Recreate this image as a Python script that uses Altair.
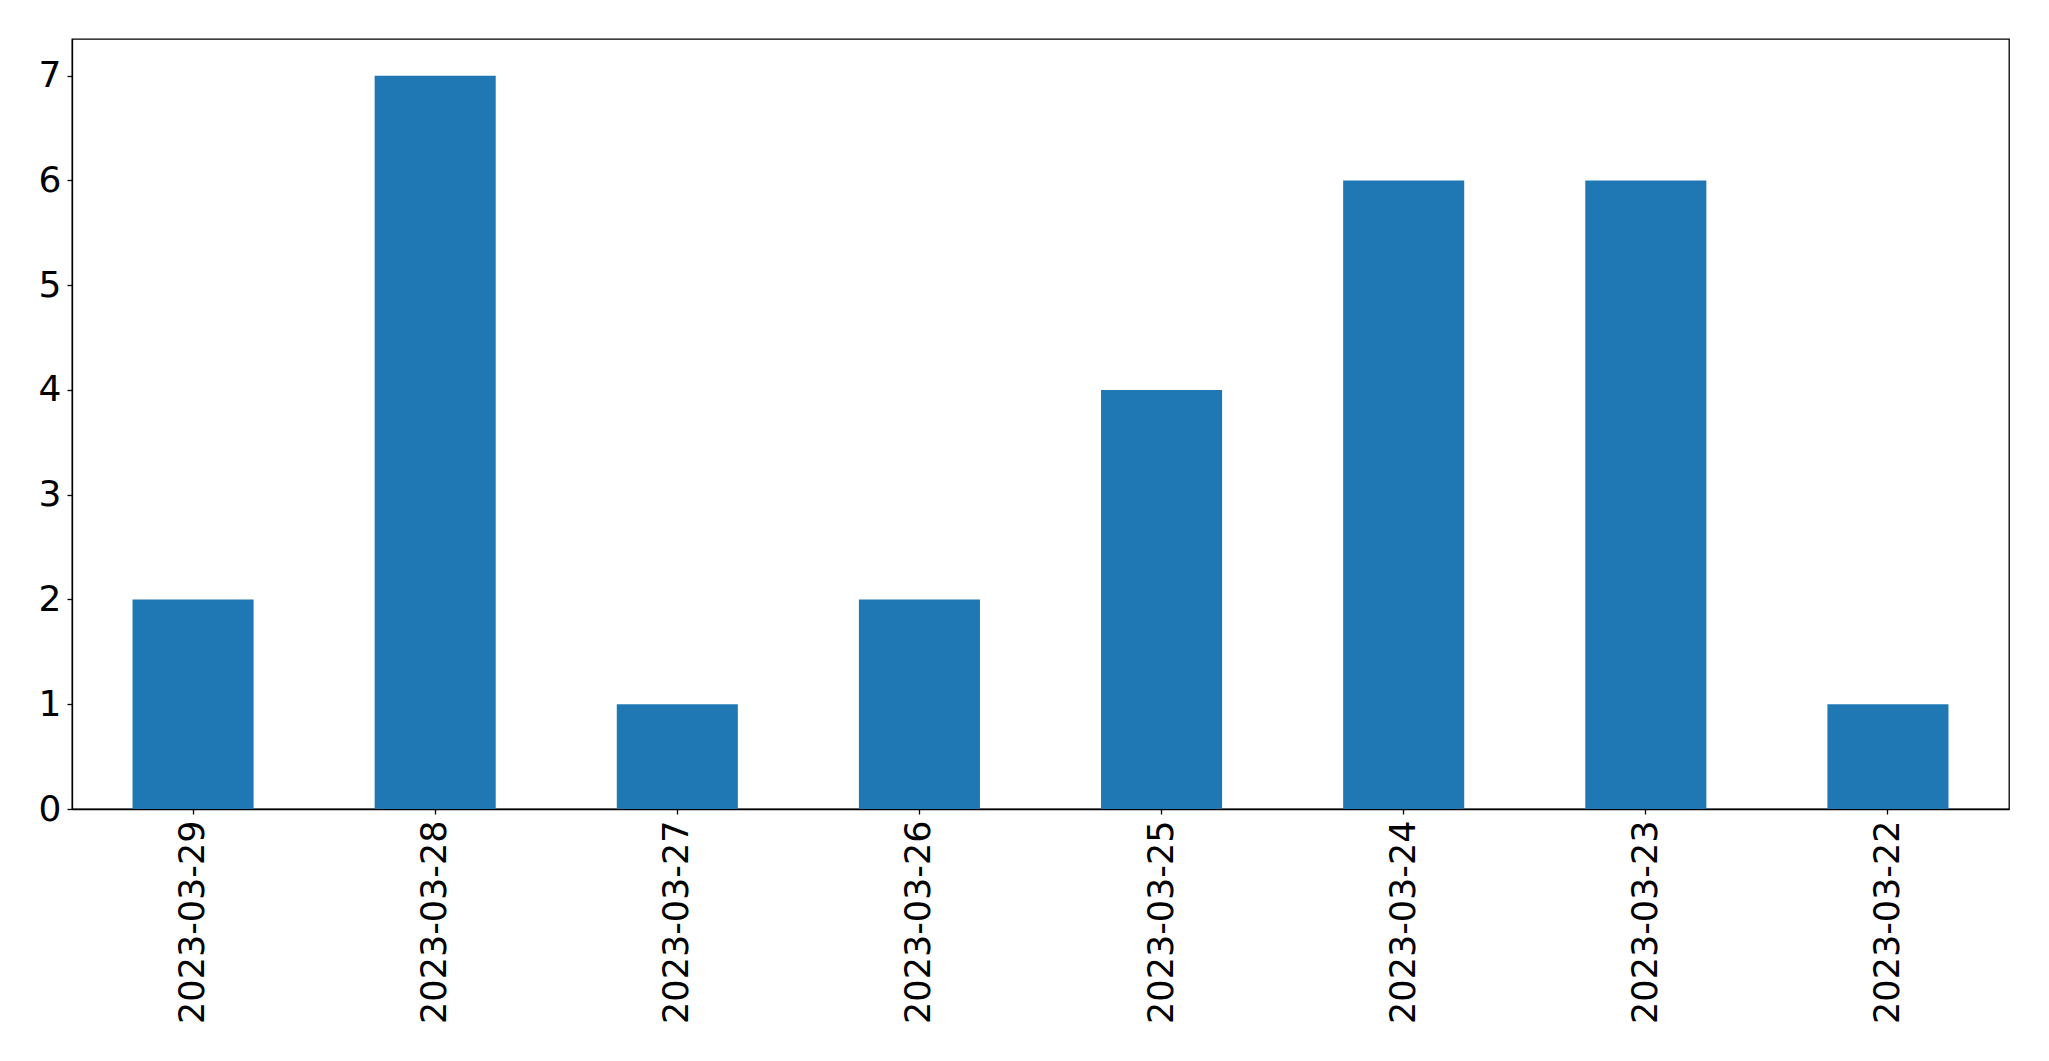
import altair as alt
import pandas as pd

dates = ["2023-03-29", "2023-03-28", "2023-03-27", "2023-03-26",
         "2023-03-25", "2023-03-24", "2023-03-23", "2023-03-22"]
counts = [2, 7, 1, 2, 4, 6, 6, 1]
y_ticks = [0, 1, 2, 3, 4, 5, 6, 7]

df = pd.DataFrame({"date": dates, "count": counts})

FONT = "DejaVu Sans"

chart = alt.Chart(df).mark_bar(color="#1f77b4").encode(
    x=alt.X("date:N", sort=dates, title=None,
            scale=alt.Scale(paddingInner=0.5, paddingOuter=0.25),
            axis=alt.Axis(labelAngle=-90, labelFontSize=35, labelFont=FONT,
                          labelColor="black", tickColor="black", domainColor="black",
                          tickSize=5, labelPadding=6, labelLimit=1000, grid=False)),
    y=alt.Y("count:Q", title=None,
            scale=alt.Scale(domain=[0, 7.35], nice=False, zero=True),
            axis=alt.Axis(values=y_ticks, labelFontSize=36, labelFont=FONT,
                          labelColor="black", tickColor="black", domainColor="black",
                          tickSize=5, labelPadding=6, grid=False, format="d")),
).properties(
    width=1937, height=770,
    autosize=alt.AutoSizeParams(type="none"),
    padding={"left": 64, "top": 31, "right": 30, "bottom": 230},
).configure_view(
    stroke="black", strokeWidth=1.3
).configure_axis(
    domainWidth=1.3, tickWidth=1.3
)

chart.save("out.html", embed_options={"renderer": "svg", "actions": False})
